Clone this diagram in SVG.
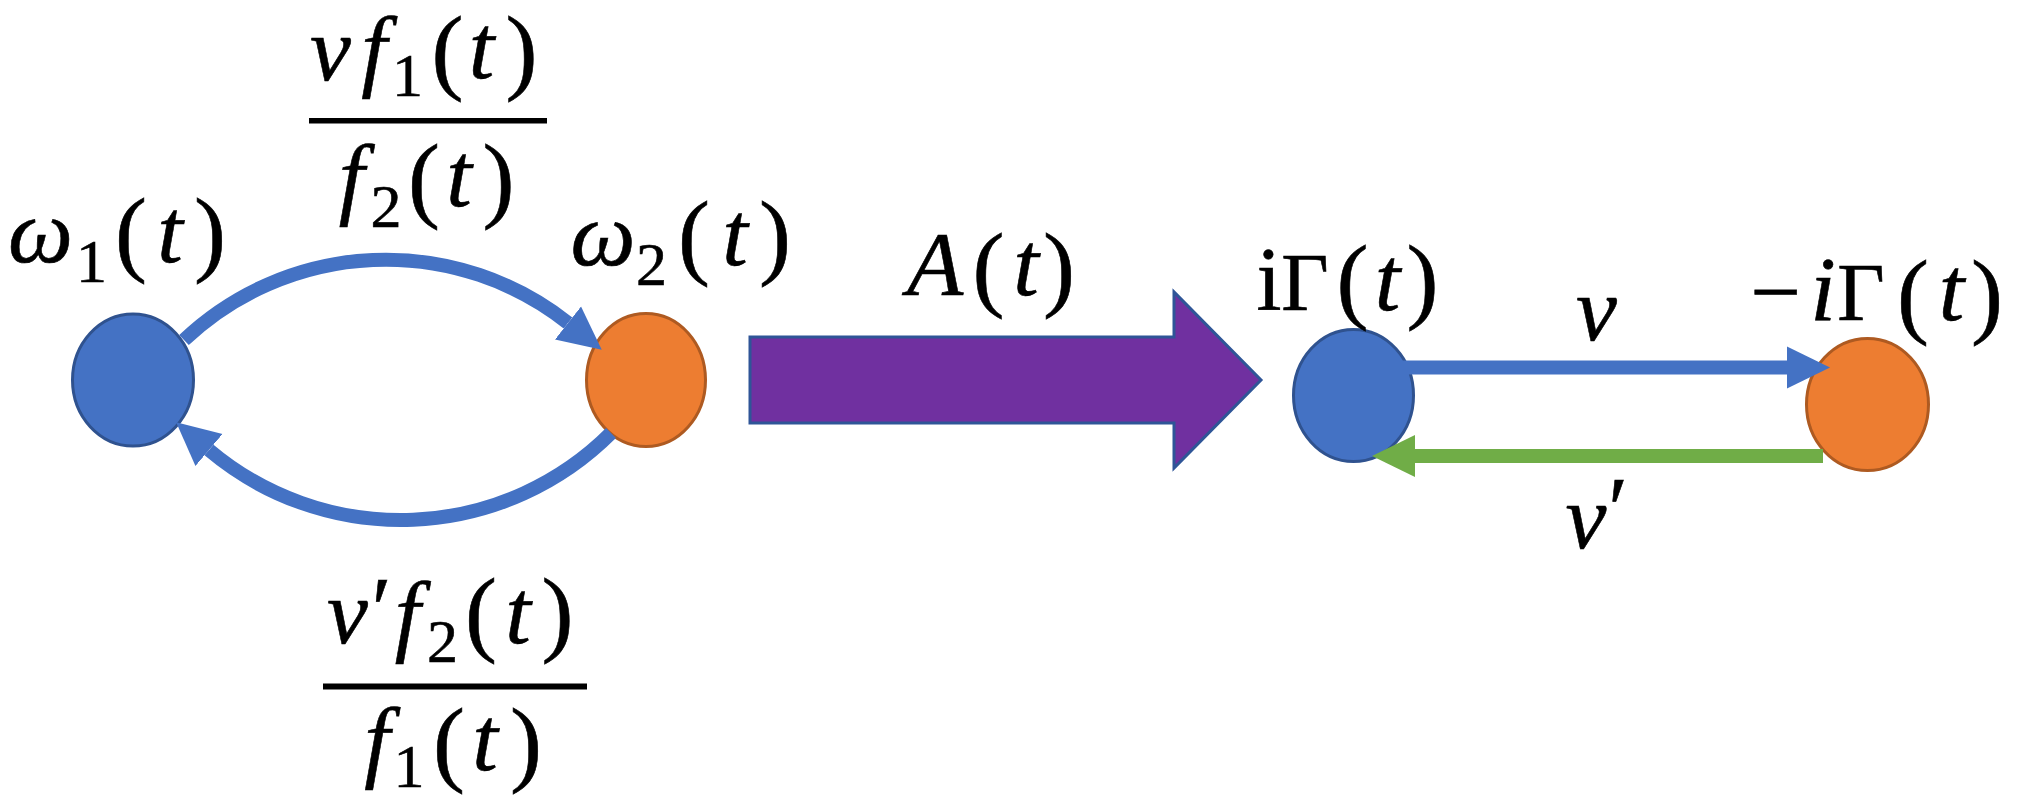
<svg xmlns="http://www.w3.org/2000/svg" width="2017" height="797" viewBox="0 0 2017 797">
<style>
text{font-family:"Liberation Serif","Times New Roman",serif;fill:#000;text-anchor:middle;stroke:#000;stroke-width:0.6}
.m{font-style:italic;font-size:92px}
.u{font-size:90px}
.g{font-size:82px}
.p{font-size:96px;font-style:normal}
.s{font-size:62px;font-style:normal}
.nb{fill:#4472C4;stroke:#2F528F;stroke-width:3}
.no{fill:#ED7D31;stroke:#AE5A21;stroke-width:3}
.cb{fill:none;stroke:#4472C4;stroke-width:14}
.cg{fill:none;stroke:#70AD47;stroke-width:14}
.bar{fill:#000}
</style>
<defs>
<marker id="ahB" markerUnits="userSpaceOnUse" markerWidth="46" markerHeight="46" refX="0" refY="22" orient="auto">
<path d="M0,1 L43,22 L0,43 z" fill="#4472C4"/>
</marker>
<marker id="ahG" markerUnits="userSpaceOnUse" markerWidth="46" markerHeight="46" refX="0" refY="22" orient="auto">
<path d="M0,1 L43,22 L0,43 z" fill="#70AD47"/>
</marker>
</defs>
<rect width="2017" height="797" fill="#fff"/>

<g id="node-w1">
<ellipse class="nb" cx="133" cy="380" rx="60.5" ry="66"/>
<text><tspan class="m" x="40.5" y="262">ω</tspan><tspan class="s" x="91.5" y="282">1</tspan><tspan class="p" x="131" y="264">(</tspan><tspan class="m" x="170" y="262">t</tspan><tspan class="p" x="210" y="264">)</tspan></text>
</g>

<g id="node-w2">
<ellipse class="no" cx="646" cy="380" rx="59.5" ry="66.5"/>
<text><tspan class="m" x="603" y="265">ω</tspan><tspan class="s" x="651.5" y="285">2</tspan><tspan class="p" x="694" y="267">(</tspan><tspan class="m" x="735" y="265">t</tspan><tspan class="p" x="775" y="267">)</tspan></text>
</g>

<g id="node-transform">
<polygon points="750,337 1174,337 1174,292 1261,380 1174,468 1174,423 750,423" fill="#7030A0" stroke="#2F5597" stroke-width="3"/>
<text><tspan class="m" x="935" y="295">A</tspan><tspan class="p" x="988.5" y="299">(</tspan><tspan class="m" x="1026" y="295">t</tspan><tspan class="p" x="1059" y="299">)</tspan></text>
</g>

<g id="node-igamma">
<ellipse class="nb" cx="1353.5" cy="395.5" rx="60" ry="66"/>
<text><tspan class="u" x="1269" y="310">i</tspan><tspan class="g" x="1305" y="310">Γ</tspan><tspan class="p" x="1352.5" y="311">(</tspan><tspan class="m" x="1387.5" y="310">t</tspan><tspan class="p" x="1422.5" y="311">)</tspan></text>
</g>

<g id="node-minus-igamma">
<ellipse class="no" cx="1867.5" cy="404.5" rx="61" ry="66"/>
<text><tspan class="u" x="1776" y="322">−</tspan><tspan class="m" x="1823" y="320">i</tspan><tspan class="g" x="1861" y="320">Γ</tspan><tspan class="p" x="1913" y="326">(</tspan><tspan class="m" x="1951.5" y="320">t</tspan><tspan class="p" x="1987" y="326">)</tspan></text>
</g>

<g id="connectors">
<path class="cb" d="M184,340 A293.7,293.7 0 0 1 568,323" marker-end="url(#ahB)"/>
<path class="cb" d="M611,433 A297.5,297.5 0 0 1 209,450" marker-end="url(#ahB)"/>
<path class="cb" d="M1403,367.5 H1787" stroke-width="15" marker-end="url(#ahB)"/>
<path class="cg" d="M1823,456 H1415" marker-end="url(#ahG)"/>
</g>

<g id="label-top">
<text><tspan class="m" x="330.5" y="80">ν</tspan><tspan class="m" x="374" y="80">f</tspan><tspan class="s" x="407.5" y="96">1</tspan><tspan class="p" x="447.5" y="82">(</tspan><tspan class="m" x="481.5" y="78">t</tspan><tspan class="p" x="521.5" y="82">)</tspan></text>
<rect class="bar" x="309" y="118" width="238" height="5.5"/>
<text><tspan class="m" x="351.5" y="208">f</tspan><tspan class="s" x="386" y="227">2</tspan><tspan class="p" x="424" y="210">(</tspan><tspan class="m" x="459" y="206">t</tspan><tspan class="p" x="498.5" y="210">)</tspan></text>
</g>

<g id="label-bottom">
<text><tspan class="m" x="347.5" y="643">ν</tspan><tspan class="u" x="381.5" y="640">′</tspan><tspan class="m" x="407.5" y="645">f</tspan><tspan class="s" x="442.5" y="662">2</tspan><tspan class="p" x="481" y="644">(</tspan><tspan class="m" x="518" y="643">t</tspan><tspan class="p" x="557.5" y="644">)</tspan></text>
<rect class="bar" x="323" y="683.5" width="264" height="6"/>
<text><tspan class="m" x="377" y="771">f</tspan><tspan class="s" x="409" y="787">1</tspan><tspan class="p" x="449" y="774">(</tspan><tspan class="m" x="485" y="770">t</tspan><tspan class="p" x="526" y="774">)</tspan></text>
</g>

<g id="label-nu">
<text class="m" x="1596.5" y="340">ν</text>
</g>
<g id="label-nuprime">
<text><tspan class="m" x="1586" y="548">ν</tspan><tspan class="u" x="1618" y="540">′</tspan></text>
</g>
</svg>
